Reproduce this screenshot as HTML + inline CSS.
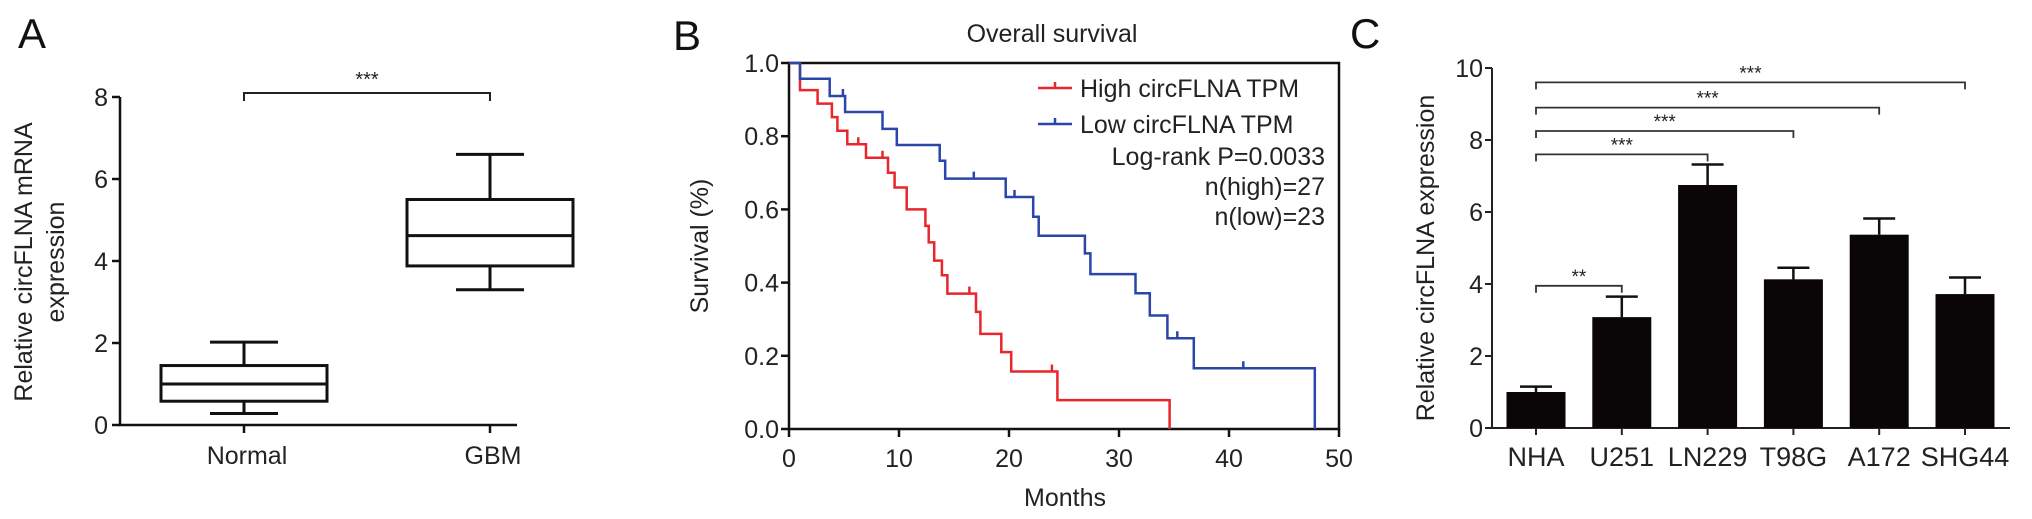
<!DOCTYPE html>
<html><head><meta charset="utf-8">
<style>
html,body{margin:0;padding:0;background:#fff;}
svg{display:block;font-family:"Liberation Sans",Arial,sans-serif;}
</style></head>
<body>
<svg id="fig" width="2032" height="519" viewBox="0 0 2032 519" xmlns="http://www.w3.org/2000/svg">
<g id="pa"></g>
<g id="pb"></g>
<g id="pc"></g>
</svg>
<script>
// ---- Panel A data ----
const boxGroups = ["Normal", "GBM"];
const boxMin = [0.28, 3.3];
const boxQ1 = [0.58, 3.88];
const boxMed = [1.0, 4.62];
const boxQ3 = [1.45, 5.5];
const boxMax = [2.02, 6.6];
const aTicks = [0, 2, 4, 6, 8];

// ---- Panel B data ----
const highTimes = [0, 1.0, 2.6, 3.9, 4.4, 5.3, 7.0, 9.0, 9.6, 10.7, 12.4, 12.7, 13.2, 13.9, 14.4, 17.0, 17.4, 19.3, 20.2, 24.4, 34.6];
const highSurv = [1.0, 0.926, 0.889, 0.852, 0.815, 0.778, 0.741, 0.70, 0.66, 0.60, 0.555, 0.51, 0.46, 0.42, 0.37, 0.32, 0.26, 0.21, 0.157, 0.079, 0];
const highCensor = [6.3, 8.5, 16.4, 23.9];
const lowTimes = [0, 1.0, 3.7, 5.1, 8.5, 9.8, 13.7, 14.2, 19.7, 22.2, 22.7, 26.9, 27.4, 31.5, 32.8, 34.4, 36.8, 47.8];
const lowSurv = [1.0, 0.957, 0.91, 0.866, 0.82, 0.776, 0.733, 0.684, 0.634, 0.58, 0.528, 0.48, 0.423, 0.371, 0.31, 0.248, 0.166, 0];
const lowCensor = [4.9, 16.8, 20.5, 35.3, 41.3];
const bXTicks = [0, 10, 20, 30, 40, 50];
const bYTicks = [0, 0.2, 0.4, 0.6, 0.8, 1.0];

// ---- Panel C data ----
const cellLines = ["NHA", "U251", "LN229", "T98G", "A172", "SHG44"];
const cellMeans = [1.0, 3.08, 6.75, 4.13, 5.37, 3.72];
const cellErr = [0.15, 0.57, 0.57, 0.32, 0.45, 0.46];
const cTicks = [0, 2, 4, 6, 8, 10];
const sigTargets = [1, 2, 3, 4, 5];
const sigLabels = ["**", "***", "***", "***", "***"];
const sigLevels = [3.95, 7.6, 8.25, 8.9, 9.6];

const NS = "http://www.w3.org/2000/svg";
function mk(parent, tag, attrs, text) {
  const e = document.createElementNS(NS, tag);
  for (const k in attrs) e.setAttribute(k, attrs[k]);
  if (text !== undefined) e.textContent = text;
  parent.appendChild(e);
  return e;
}

// ================= Panel A =================
(function () {
  const g = document.getElementById("pa");
  const x0 = 120, x1 = 517, yTop = 97, yBot = 425, vmax = 8;
  const ys = v => yBot - (v / vmax) * (yBot - yTop);
  const xs = i => [244, 490][i];
  let t = mk(g, "text", { x: 18, y: 48, "font-size": 42, fill: "#111" }, "A");
  
  
  let ax = mk(g, "path", { d: `M${x0},${yTop} V${yBot} H${x1}`, stroke: "#111", "stroke-width": 2.5, fill: "none" });
  
  
  aTicks.forEach(v => {
    const y = ys(v);
    const tk = mk(g, "line", { x1: x0 - 8, x2: x0, y1: y, y2: y, stroke: "#111", "stroke-width": 2.5 });
    
    
    const lb = mk(g, "text", { x: x0 - 12, y: y + 9, "font-size": 25, "text-anchor": "end", fill: "#222" }, String(v));
    
    
  });
  boxGroups.forEach((name, i) => {
    const cx = xs(i);
    const tk = mk(g, "line", { x1: cx, x2: cx, y1: yBot, y2: yBot + 8, stroke: "#111", "stroke-width": 2.5 });
    
    
    const lb = mk(g, "text", { x: cx + 3, y: yBot + 39, "font-size": 25, "text-anchor": "middle", fill: "#222" }, name);
    
    
    const bg = mk(g, "g", { stroke: "#111", "stroke-width": 3, fill: "none" });
    
    
    mk(bg, "rect", { x: cx - 83, y: ys(boxQ3[i]), width: 166, height: ys(boxQ1[i]) - ys(boxQ3[i]) });
    mk(bg, "line", { x1: cx - 83, x2: cx + 83, y1: ys(boxMed[i]), y2: ys(boxMed[i]) });
    mk(bg, "line", { x1: cx, x2: cx, y1: ys(boxQ3[i]), y2: ys(boxMax[i]) });
    mk(bg, "line", { x1: cx, x2: cx, y1: ys(boxQ1[i]), y2: ys(boxMin[i]) });
    mk(bg, "line", { x1: cx - 34, x2: cx + 34, y1: ys(boxMax[i]), y2: ys(boxMax[i]) });
    mk(bg, "line", { x1: cx - 34, x2: cx + 34, y1: ys(boxMin[i]), y2: ys(boxMin[i]) });
  });
  const br = mk(g, "path", { d: `M${xs(0)},101 V93 H${xs(1)} V101`, stroke: "#222", "stroke-width": 2, fill: "none" });
  
  
  const st = mk(g, "text", { x: (xs(0) + xs(1)) / 2, y: 86, "font-size": 20, "text-anchor": "middle", fill: "#222" }, "***");
  
  
  const yl = mk(g, "text", { transform: "translate(32,262) rotate(-90)", "font-size": 25, "text-anchor": "middle", fill: "#222" }, "Relative circFLNA mRNA");
  
  
  const yl2 = mk(g, "text", { transform: "translate(64,262) rotate(-90)", "font-size": 25, "text-anchor": "middle", fill: "#222" }, "expression");
  
  
})();

// ================= Panel B =================
(function () {
  const g = document.getElementById("pb");
  const x0 = 789, x1 = 1339, yTop = 63, yBot = 429;
  const xs = m => x0 + (m / 50) * (x1 - x0);
  const ys = s => yBot - s * (yBot - yTop);
  let t = mk(g, "text", { x: 673, y: 50, "font-size": 42, fill: "#111" }, "B");
  
  
  const ti = mk(g, "text", { x: 1052, y: 42, "font-size": 25, "text-anchor": "middle", fill: "#222" }, "Overall survival");
  
  
  const fr = mk(g, "rect", { x: x0, y: yTop, width: x1 - x0, height: yBot - yTop, stroke: "#111", "stroke-width": 2.5, fill: "none" });
  
  
  bYTicks.forEach(v => {
    const y = ys(v);
    const tk = mk(g, "line", { x1: x0 - 8, x2: x0, y1: y, y2: y, stroke: "#111", "stroke-width": 2.5 });
    
    
    const lb = mk(g, "text", { x: x0 - 10, y: y + 9, "font-size": 25, "text-anchor": "end", fill: "#222" }, v.toFixed(1));
    
    
  });
  bXTicks.forEach(v => {
    const x = xs(v);
    const tk = mk(g, "line", { x1: x, x2: x, y1: yBot, y2: yBot + 8, stroke: "#111", "stroke-width": 2.5 });
    
    
    const lb = mk(g, "text", { x: x, y: yBot + 38, "font-size": 25, "text-anchor": "middle", fill: "#222" }, String(v));
    
    
  });
  const xl = mk(g, "text", { x: 1065, y: 506, "font-size": 25, "text-anchor": "middle", fill: "#222" }, "Months");
  
  
  const yl = mk(g, "text", { transform: "translate(708,246) rotate(-90)", "font-size": 25, "text-anchor": "middle", fill: "#222" }, "Survival (%)");
  
  

  function stepPath(times, surv) {
    let d = `M${xs(times[0])},${ys(surv[0])}`;
    for (let i = 1; i < times.length; i++) {
      d += ` H${xs(times[i])} V${ys(surv[i])}`;
    }
    return d;
  }
  function survAt(times, surv, m) {
    let s = surv[0];
    for (let i = 0; i < times.length; i++) if (times[i] <= m) s = surv[i];
    return s;
  }
  function drawCurve(times, surv, cens, color, name) {
    const cg = mk(g, "g", { stroke: color, "stroke-width": 2.5, fill: "none" });
    
    
    mk(cg, "path", { d: stepPath(times, surv) });
    cens.forEach(m => {
      const y = ys(survAt(times, surv, m));
      const c = mk(cg, "line", { x1: xs(m), x2: xs(m), y1: y, y2: y - 7 });
      
      
    });
  }
  drawCurve(highTimes, highSurv, highCensor, "#e8262c", "high-circflna-curve");
  drawCurve(lowTimes, lowSurv, lowCensor, "#2b45a8", "low-circflna-curve");

  const lg = mk(g, "g", {});
  
  
  const e1 = mk(lg, "path", { d: "M1038,88 H1072 M1055,88 V82", stroke: "#e8262c", "stroke-width": 2.5, fill: "none" });
  
  
  const e2 = mk(lg, "path", { d: "M1038,124 H1072 M1055,124 V118", stroke: "#2b45a8", "stroke-width": 2.5, fill: "none" });
  
  
  const lines = [["High circFLNA TPM", 1080, 97, "start"], ["Low circFLNA TPM", 1080, 133, "start"], ["Log-rank P=0.0033", 1325, 165, "end"], ["n(high)=27", 1325, 195, "end"], ["n(low)=23", 1325, 225, "end"]];
  lines.forEach(l => {
    const tx = mk(lg, "text", { x: l[1], y: l[2], "font-size": 25, "text-anchor": l[3], fill: "#222" }, l[0]);
    
    
  });
})();

// ================= Panel C =================
(function () {
  const g = document.getElementById("pc");
  const x0 = 1492, x1 = 2010, yTop = 68, yBot = 428, vmax = 10;
  const xs = i => 1536 + i * 85.8;
  const ys = v => yBot - (v / vmax) * (yBot - yTop);
  let t = mk(g, "text", { x: 1350, y: 48, "font-size": 42, fill: "#111" }, "C");
  
  
  const ax = mk(g, "path", { d: `M${x0},${yTop} V${yBot} H${x1}`, stroke: "#222", "stroke-width": 2, fill: "none" });
  
  
  cTicks.forEach(v => {
    const y = ys(v);
    const tk = mk(g, "line", { x1: x0 - 7, x2: x0, y1: y, y2: y, stroke: "#222", "stroke-width": 2 });
    
    
    const lb = mk(g, "text", { x: x0 - 9, y: y + 9, "font-size": 25, "text-anchor": "end", fill: "#222" }, String(v));
    
    
  });
  cellLines.forEach((name, i) => {
    const cx = xs(i);
    const tk = mk(g, "line", { x1: cx, x2: cx, y1: yBot, y2: yBot + 7, stroke: "#222", "stroke-width": 2 });
    
    
    const lb = mk(g, "text", { x: cx, y: yBot + 38, "font-size": 27, "text-anchor": "middle", fill: "#222" }, name);
    
    
    const eb = mk(g, "path", { d: `M${cx},${ys(cellMeans[i])} V${ys(cellMeans[i] + cellErr[i])} M${cx - 16},${ys(cellMeans[i] + cellErr[i])} H${cx + 16}`, stroke: "#111", "stroke-width": 2.5, fill: "none" });
    
    
    const b = mk(g, "rect", { x: cx - 29.5, y: ys(cellMeans[i]), width: 59, height: yBot - ys(cellMeans[i]), fill: "#0a0506" });
    
    
  });
  sigTargets.forEach((ti, k) => {
    const y = ys(sigLevels[k]);
    const br = mk(g, "path", { d: `M${xs(0)},${y + 7} V${y} H${xs(ti)} V${y + 7}`, stroke: "#333", "stroke-width": 1.8, fill: "none" });
    
    
    const st = mk(g, "text", { x: (xs(0) + xs(ti)) / 2, y: y - 3, "font-size": 19, "text-anchor": "middle", fill: "#222" }, sigLabels[k]);
    
    
  });
  const yl = mk(g, "text", { transform: "translate(1434,258) rotate(-90)", "font-size": 25, "text-anchor": "middle", fill: "#222" }, "Relative circFLNA expression");
  
  
})();
</script>
</body></html>
